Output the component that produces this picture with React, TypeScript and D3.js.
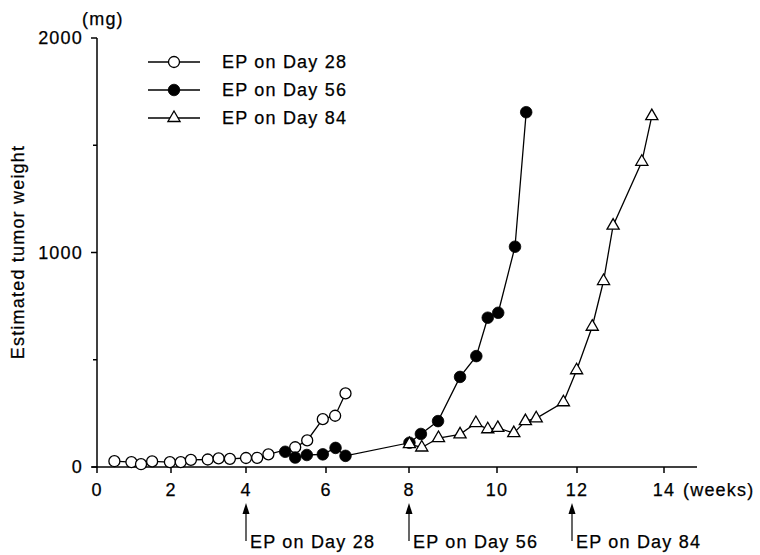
import React from "react";
import * as d3 from "d3";

// ---- data ----
const weeks28 = [0.47, 0.93, 1.19, 1.49, 1.97, 2.26, 2.53, 2.98, 3.27, 3.57, 4.0, 4.28, 4.56, 5.23, 5.53, 5.92, 6.22, 6.47];
const weight28 = [27, 23, 13, 26, 23, 23, 33, 35, 40, 38, 42, 43, 59, 92, 124, 223, 239, 343];

const weeks56 = [4.98, 5.23, 5.52, 5.92, 6.23, 6.47, 8.01, 8.27, 8.66, 9.16, 9.53, 9.79, 10.03, 10.45, 10.73];
const weight56 = [71, 44, 56, 59, 89, 52, 113, 154, 214, 420, 517, 696, 719, 1027, 1654];

const weeks84 = [8.01, 8.29, 8.67, 9.16, 9.52, 9.79, 10.02, 10.42, 10.71, 10.98, 11.66, 11.99, 12.35, 12.61, 12.83, 13.49, 13.72];
const weight84 = [107, 91, 135, 152, 205, 176, 182, 158, 214, 227, 302, 451, 654, 867, 1125, 1423, 1636];

const xTicks = [0, 2, 4, 6, 8, 10, 12, 14];
const yMajorTicks = [0, 1000, 2000];
const yMinorTicks = [500, 1500];
const seriesNames = ["EP on Day 28", "EP on Day 56", "EP on Day 84"];
const epWeeks = [4, 8, 12];
const epLabels = ["EP on Day 28", "EP on Day 56", "EP on Day 84"];

const W = 760;
const H = 555;
const FONT = "'Liberation Sans', Arial, Helvetica, sans-serif";
const FS = 18;
const LS = 1.2;

export default function App() {
  // the scanned axis is slightly uneven; map each labelled week to its tick position
  const x = d3.scaleLinear().domain(xTicks).range([97, 171, 246, 326, 409, 497, 577, 664]);
  const y = d3.scaleLinear().domain([0, 2000]).range([467, 38]);

  const line = d3
    .line<[number, number]>()
    .x((d) => x(d[0]))
    .y((d) => y(d[1]));

  const s28: [number, number][] = weeks28.map((w, i) => [w, weight28[i]]);
  const s56: [number, number][] = weeks56.map((w, i) => [w, weight56[i]]);
  const s84: [number, number][] = weeks84.map((w, i) => [w, weight84[i]]);

  const tri = d3.symbol().type(d3.symbolTriangle).size(64)() as string;
  const stroke = "#000";
  const lw = 1.3;

  const marker = (kind: number, cx: number, cy: number, key: string) => {
    if (kind === 0)
      return <circle key={key} cx={cx} cy={cy} r={5.5} fill="#fff" stroke={stroke} strokeWidth={lw} />;
    if (kind === 1) return <circle key={key} cx={cx} cy={cy} r={5.8} fill="#000" stroke={stroke} strokeWidth={0.8} />;
    return (
      <path key={key} d={tri} transform={`translate(${cx},${cy})`} fill="#fff" stroke={stroke} strokeWidth={lw} />
    );
  };

  const series = [s28, s56, s84];
  const textStyle: React.CSSProperties = {
    fontFamily: FONT,
    fontSize: FS,
    letterSpacing: LS,
    stroke: "#000",
    strokeWidth: 0.25,
  };

  return (
    <svg
      width={W}
      height={H}
      viewBox={`0 0 ${W} ${H}`}
      style={{ position: "absolute", left: 0, top: 0, background: "#fff" }}
    >
      <rect x={0} y={0} width={W} height={H} fill="#fff" />
      {/* y axis */}
      <line x1={x(0)} x2={x(0)} y1={y(2000)} y2={y(0)} stroke={stroke} strokeWidth={1.5} />
      {yMajorTicks.map((t) => (
        <g key={"ym" + t}>
          <line x1={x(0) - 6} x2={x(0)} y1={y(t)} y2={y(t)} stroke={stroke} strokeWidth={1.5} />
          <text x={83} y={y(t)} dy="0.36em" textAnchor="end" style={textStyle}>
            {t}
          </text>
        </g>
      ))}
      {yMinorTicks.map((t) => (
        <line key={"yn" + t} x1={x(0) - 4} x2={x(0)} y1={y(t)} y2={y(t)} stroke={stroke} strokeWidth={1.5} />
      ))}
      <text x={82} y={25} style={textStyle}>
        (mg)
      </text>
      <text
        transform={`translate(24,252) rotate(-90)`}
        textAnchor="middle"
        style={textStyle}
      >
        Estimated tumor weight
      </text>

      {/* x axis */}
      <line x1={x(0) - 5} x2={697} y1={y(0)} y2={y(0)} stroke={stroke} strokeWidth={1.5} />
      {xTicks.map((t) => (
        <g key={"xt" + t}>
          <line x1={x(t)} x2={x(t)} y1={y(0)} y2={y(0) + 6} stroke={stroke} strokeWidth={1.5} />
          <text x={x(t)} y={496} textAnchor="middle" style={textStyle}>
            {t}
          </text>
        </g>
      ))}
      <text x={683} y={496} style={textStyle}>
        (weeks)
      </text>

      {/* series lines */}
      {series.map((s, i) => (
        <path key={"l" + i} d={line(s) as string} fill="none" stroke={stroke} strokeWidth={lw} />
      ))}
      {series.map((s, i) => s.map((d, j) => marker(i, x(d[0]), y(d[1]), `m${i}-${j}`)))}

      {/* legend */}
      {seriesNames.map((name, i) => {
        const ly = 62 + i * 28;
        return (
          <g key={"lg" + i}>
            <line x1={148} x2={200} y1={ly} y2={ly} stroke={stroke} strokeWidth={lw} />
            {marker(i, 174, ly, "lgm" + i)}
            <text x={222} y={ly} dy="0.36em" style={textStyle}>
              {name}
            </text>
          </g>
        );
      })}

      {/* EP arrows */}
      {epWeeks.map((w, i) => {
        const ax = x(w) - (i === 2 ? 5 : 0);
        return (
          <g key={"ep" + i}>
            <line x1={ax} x2={ax} y1={512} y2={541} stroke={stroke} strokeWidth={1.2} />
            <path d={`M${ax},503 L${ax - 3.5},514 L${ax + 3.5},514 Z`} fill="#000" />
            <text x={ax + 4} y={548} style={textStyle}>
              {epLabels[i]}
            </text>
          </g>
        );
      })}
    </svg>
  );
}
